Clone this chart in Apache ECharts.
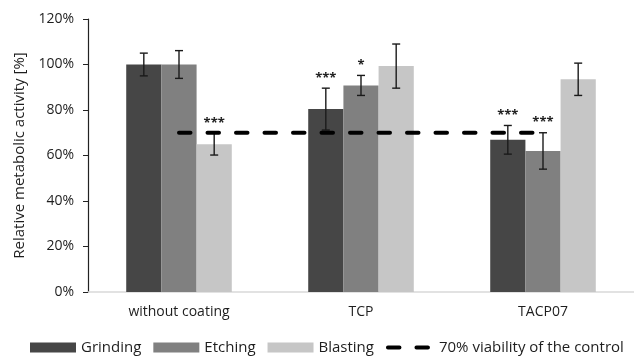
<!DOCTYPE html>
<html><head><meta charset="utf-8">
<script src="https://cdn.jsdelivr.net/npm/echarts@6/dist/echarts.min.js"></script>
<style>html,body{margin:0;padding:0;background:#fff}#c{width:634px;height:356px}</style>
</head><body><div id="c"></div>
<script>
const categories = ['without coating', 'TCP', 'TACP07'];
const seriesNames = ['Grinding', 'Etching', 'Blasting'];
const grinding = [100, 80.4, 66.9];
const etching = [100, 90.8, 62.0];
const blasting = [65.0, 99.3, 93.5];
const grindingErr = [5.0, 9.2, 6.3];
const etchingErr = [6.1, 4.4, 8.0];
const blastingErr = [4.8, 9.7, 7.1];
const grindingSig = ['', '***', '***'];
const etchingSig = ['', '*', '***'];
const blastingSig = ['***', '', ''];
const viability = [70, 70, 70];
const viabilityName = '70% viability of the control';
const yTicks = [0, 20, 40, 60, 80, 100, 120];

const colors = ['#464646', '#808080', '#c6c6c6'];
const values = [grinding, etching, blasting];
const errs = [grindingErr, etchingErr, blastingErr];
const sigs = [grindingSig, etchingSig, blastingSig];
const FONT = '"Open Sans"';
const FS = 14;
const TXT = '#1e1e1e';
const gapPct = 0.42;
const dash = {color: '#000', width: 4, type: [11.5, 17], cap: 'round'};

const errData = [];
for (let s = 0; s < 3; s++) for (let c = 0; c < 3; c++)
  errData.push([c, values[s][c] - errs[s][c], values[s][c] + errs[s][c], s, sigs[s][c]]);

const chart = echarts.init(document.getElementById('c'));
chart.setOption({
  animation: false,
  textStyle: {fontFamily: FONT},
  grid: {left: 88, right: 0, top: 19, bottom: 64},
  legend: {
    bottom: 1, left: 30, width: 620, padding: 0, itemWidth: 46, itemHeight: 10, itemGap: 12,
    textStyle: {fontFamily: FONT, fontSize: 15, color: TXT},
    data: [
      {name: 'Grinding', icon: 'rect'},
      {name: 'Etching', icon: 'rect'},
      {name: 'Blasting', icon: 'rect'},
      {name: viabilityName, itemStyle: {opacity: 0}, lineStyle: dash}
    ]
  },
  xAxis: {
    type: 'category', data: categories,
    axisLine: {lineStyle: {color: '#d9d9d9', width: 1.5}},
    axisTick: {show: false},
    axisLabel: {fontFamily: FONT, fontSize: FS, color: TXT, margin: 13}
  },
  yAxis: {
    type: 'value', min: 0, max: 120, interval: 20,
    name: 'Relative metabolic activity [%]', nameLocation: 'middle', nameGap: 61,
    nameTextStyle: {fontFamily: FONT, fontSize: 15, color: TXT},
    axisLine: {show: true, lineStyle: {color: '#222', width: 1.2}},
    axisTick: {show: true, length: 5, lineStyle: {color: '#222'}},
    splitLine: {show: false},
    axisLabel: {fontFamily: FONT, fontSize: FS, color: TXT, margin: 14,
      formatter: v => yTicks.includes(v) ? v + '%' : ''}
  },
  series: [
    ...seriesNames.map((n, i) => ({
      name: n, type: 'bar', data: values[i], barGap: '0%', barCategoryGap: (gapPct * 100) + '%',
      itemStyle: {color: colors[i]}, z: 2
    })),
    {
      type: 'custom', name: 'err', data: errData, z: 5, silent: true,
      renderItem: function (params, api) {
        const c = api.value(0), s = api.value(3);
        const band = api.size([1, 0])[0];
        const bw = band * (1 - gapPct) / 3;
        const cx = api.coord([c, 0])[0] + (s - 1) * bw;
        const lo = api.coord([c, api.value(1)])[1];
        const hi = api.coord([c, api.value(2)])[1];
        const cap = 4;
        const st = {stroke: '#1a1a1a', lineWidth: 1.4};
        const ch = [
          {type: 'line', shape: {x1: cx, y1: lo, x2: cx, y2: hi}, style: st},
          {type: 'line', shape: {x1: cx - cap, y1: lo, x2: cx + cap, y2: lo}, style: st},
          {type: 'line', shape: {x1: cx - cap, y1: hi, x2: cx + cap, y2: hi}, style: st}
        ];
        const sig = errData[params.dataIndex][4];
        if (sig) ch.push({type: 'text', style: {x: cx, y: hi - 10, text: sig, align: 'center', verticalAlign: 'middle',
          font: 'bold 13px ' + FONT, fill: '#222'}});
        return {type: 'group', children: ch};
      }
    },
    {
      name: viabilityName, type: 'line', data: viability, symbol: 'none', z: 10,
      lineStyle: dash, itemStyle: {color: '#000'}
    }
  ]
});
</script></body></html>
